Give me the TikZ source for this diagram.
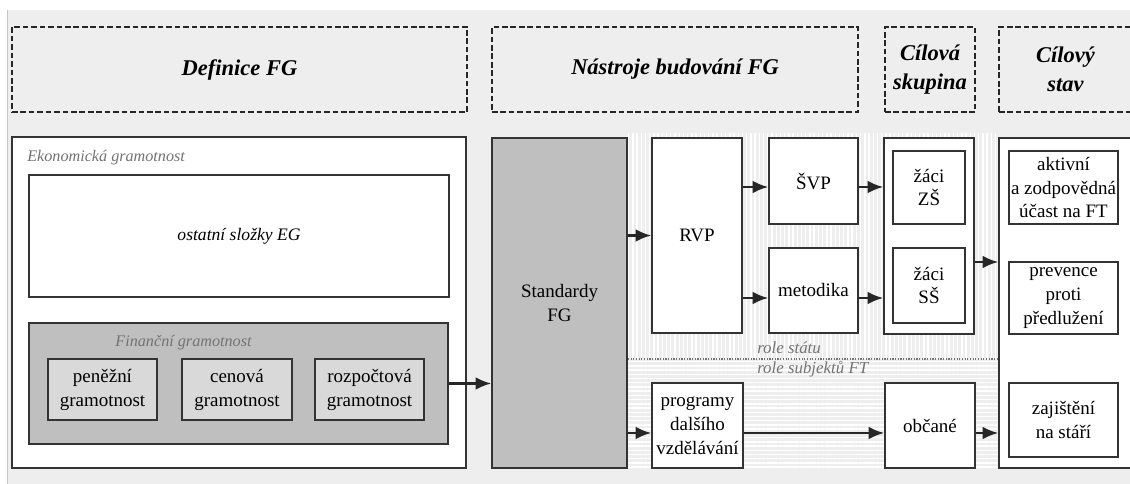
\documentclass[tikz,border=0pt]{standalone}
\usepackage{fontspec}
\setmainfont{Liberation Serif}
\usetikzlibrary{arrows.meta, positioning, patterns.meta}

\begin{document}
\begin{tikzpicture}[x=0.025cm, y=-0.025cm,
    box/.style={draw=black!80, line width=1.2pt, fill=white, inner sep=1pt, align=center, font=\fontsize{13.5}{17}\selectfont},
    hdr/.style={draw=black!85, line width=0.9pt, dash pattern=on 4pt off 2pt, align=center, font=\fontsize{16}{21}\selectfont\bfseries\itshape},
    lbl/.style={text=black!55, inner sep=0pt, font=\fontsize{11.5}{14}\selectfont\itshape},
    arr/.style={-{Latex[length=11pt, width=9pt]}, line width=1.5pt, black!85}]
    \useasboundingbox (0,0) rectangle (1130,484);
    \clip (0,0) rectangle (1130,484);
    % background
    \fill[white] (0,0) rectangle (1130,484);
    \fill[gray!13] (7,10) rectangle (1130,484);
    \draw[gray!45, line width=0.6pt] (7,10) -- (7,484);
    \fill[pattern={Lines[angle=90, distance=3pt, line width=1pt]}, pattern color=white] (627,134) rectangle (999,359);
    \fill[pattern={Lines[angle=0, distance=3pt, line width=1pt]}, pattern color=white] (627,359) rectangle (999,468);

    % headers
    \node[hdr, minimum width=11.375cm, minimum height=2.125cm] (hdef) at (239.5,69.5) {Definice FG};
    \node[hdr, minimum width=9.15cm, minimum height=2.125cm] (hnas) at (675,69.5) {Nástroje budování FG};
    \node[hdr, minimum width=2.25cm, minimum height=2.125cm, inner sep=0pt] (hcil) at (930,69.5) {Cílová\\skupina};
    \node[hdr, minimum width=3.325cm, minimum height=2.125cm] (hstav) at (1065.5,69.5) {Cílový\\stav};

    % Definice FG
    \node[box, minimum width=11.35cm, minimum height=8.275cm] (ekon) at (239,302.5) {};
    \node[lbl, anchor=west] (ekonlbl) at (27,158) {Ekonomická gramotnost};
    \node[box, minimum width=10.5cm, minimum height=3.05cm, font=\fontsize{12.5}{15}\selectfont\itshape] (ostatni) at (239,236) {ostatní složky EG};
    \node[box, fill=gray!50, minimum width=10.475cm, minimum height=3.025cm] (fin) at (238.5,383.5) {};
    \node[lbl] (finlbl) at (183.5,343) {Finanční gramotnost};
    \node[box, fill=gray!30, minimum width=2.725cm, minimum height=1.525cm] (pen) at (102.5,389.5) {peněžní\\gramotnost};
    \node[box, fill=gray!30, minimum width=2.75cm, minimum height=1.525cm] (cen) at (237,389.5) {cenová\\gramotnost};
    \node[box, fill=gray!30, minimum width=2.725cm, minimum height=1.525cm] (roz) at (369.5,389.5) {rozpočtová\\gramotnost};

    % Nastroje budovani FG
    \node[box, fill=gray!50, minimum width=3.375cm, minimum height=8.25cm] (std) at (559.5,303) {Standardy\\FG};
    \node[box, minimum width=2.25cm, minimum height=4.875cm] (rvp) at (697,235.5) {RVP};
    \node[box, minimum width=2.225cm, minimum height=2.15cm] (svp) at (813.5,181) {ŠVP};
    \node[box, minimum width=2.225cm, minimum height=2.125cm] (met) at (813.5,290.5) {metodika};
    \node[box, minimum width=2.275cm, minimum height=2.125cm] (prog) at (697.5,425.5) {programy\\dalšího\\vzdělávání};

    % Cilova skupina
    \node[box, minimum width=2.25cm, minimum height=4.9cm] (skup) at (929,236) {};
    \node[box, minimum width=1.8cm, minimum height=1.825cm] (zs) at (929,187.5) {žáci\\ZŠ};
    \node[box, minimum width=1.8cm, minimum height=1.875cm] (ss) at (929,285.5) {žáci\\SŠ};
    \node[box, minimum width=2.25cm, minimum height=2.125cm] (obc) at (930,425.5) {občané};

    % Cilovy stav
    \node[box, minimum width=3.325cm, minimum height=8.25cm] (stav) at (1065.5,303) {};
    \node[box, minimum width=2.725cm, minimum height=1.825cm] (akt) at (1063.5,187.5) {aktivní\\a zodpovědná\\účast na FT};
    \node[box, minimum width=2.725cm, minimum height=1.8cm] (prev) at (1063.5,298) {prevence\\proti\\předlužení};
    \node[box, minimum width=2.725cm, minimum height=1.85cm] (zaj) at (1063.5,420) {zajištění\\na stáří};

    % roles
    \coordinate (row1) at (0,187);
    \coordinate (row2) at (0,298);
    \coordinate (row3) at (0,262);
    \coordinate (row4) at (0,433);
    \coordinate (div) at (0,359);
    \draw[black!55, line width=0.9pt, densely dotted] (std.east |- div) -- (stav.west |- div);
    \node[lbl, anchor=west, font=\fontsize{12}{14}\selectfont\itshape] (rstat) at (757,348) {role státu};
    \node[lbl, anchor=west, font=\fontsize{12}{14}\selectfont\itshape] (rsubj) at (757,369) {role subjektů FT};

    % arrows
    \draw[arr] (fin.east) -- (fin.east -| std.west);
    \draw[arr] (std.east |- rvp.west) -- (rvp.west);
    \draw[arr] (rvp.east |- row1) -- (svp.west |- row1);
    \draw[arr] (rvp.east |- row2) -- (met.west |- row2);
    \draw[arr] (svp.east |- row1) -- (skup.west |- row1);
    \draw[arr] (met.east |- row2) -- (skup.west |- row2);
    \draw[arr] (skup.east |- row3) -- (stav.west |- row3);
    \draw[arr] (std.east |- row4) -- (prog.west |- row4);
    \draw[arr] (prog.east |- row4) -- (obc.west |- row4);
    \draw[arr] (obc.east |- row4) -- (stav.west |- row4);
\end{tikzpicture}
\end{document}
